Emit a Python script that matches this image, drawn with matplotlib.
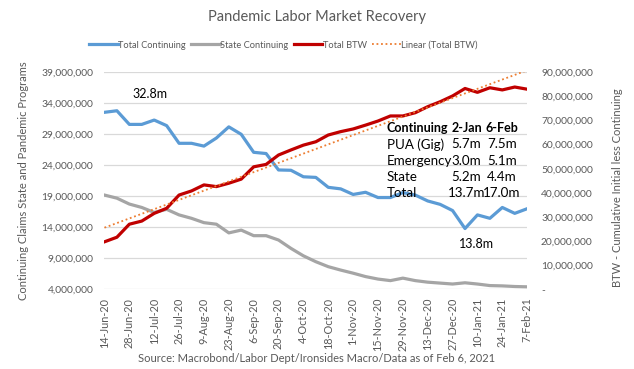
import numpy as np
import pandas as pd
import matplotlib
matplotlib.use('Agg')
import matplotlib.pyplot as plt
from matplotlib.ticker import FuncFormatter
import matplotlib.dates as mdates

plt.rcParams['font.family'] = ['Lato', 'DejaVu Sans']

# weekly dates, 14-Jun-20 to 7-Feb-21
weeks = pd.date_range('2020-06-14', '2021-02-07', freq='7D')

# continuing claims, millions (left axis)
total_continuing = [32.55, 32.8, 30.6, 30.6, 31.3, 30.4, 27.55, 27.55, 27.1, 28.4,
                    30.2, 29.0, 26.1, 25.9, 23.25, 23.2, 22.15, 22.05, 20.45, 20.2,
                    19.3, 19.65, 18.8, 18.8, 19.6, 19.2, 18.25, 17.7, 16.7, 13.8,
                    16.0, 15.45, 17.2, 16.25, 17.0]
state_continuing = [19.2, 18.7, 17.75, 17.2, 16.4, 16.9, 16.0, 15.45, 14.75, 14.5,
                    13.1, 13.55, 12.65, 12.65, 11.95, 10.6, 9.4, 8.45, 7.65, 7.1,
                    6.6, 6.05, 5.65, 5.4, 5.8, 5.4, 5.15, 5.0, 4.85, 5.05,
                    4.85, 4.6, 4.55, 4.45, 4.4]
# cumulative initial less continuing, millions (right axis)
total_btw = [19.7, 21.6, 27.0, 28.3, 31.5, 33.6, 39.1, 40.8, 43.3, 42.6,
             44.0, 45.7, 50.8, 51.8, 55.7, 57.8, 59.8, 61.2, 64.0, 65.4,
             66.5, 68.1, 69.8, 71.9, 71.9, 73.25, 75.75, 77.8, 80.2, 83.3,
             81.7, 83.6, 82.7, 83.9, 83.0]

table_rows = [('Continuing', '2-Jan', '6-Feb'),
              ('PUA (Gig)', '5.7m', '7.5m'),
              ('Emergency', '3.0m', '5.1m'),
              ('State', '5.2m', '4.4m'),
              ('Total', '13.7m', '17.0m')]

blue = '#5B9BD5'
grey = '#A5A5A5'
red = '#C00000'
orange = '#ED7D31'
grid_c = '#D9D9D9'
txt_c = '#595959'

fig = plt.figure(figsize=(6.34, 3.69), dpi=100)
ax = fig.add_axes([0.1648, 0.216, 0.6667, 0.588])
ax2 = ax.twinx()

tc = np.array(total_continuing) * 1e6
sc = np.array(state_continuing) * 1e6
btw = np.array(total_btw) * 1e6

l1, = ax.plot(weeks, tc, color=blue, lw=2.3, solid_joinstyle='round')
l2, = ax.plot(weeks, sc, color=grey, lw=2.3, solid_joinstyle='round')
l3, = ax2.plot(weeks, btw, color=red, lw=2.3, solid_joinstyle='round')

# linear trend of Total BTW
xi = np.arange(len(weeks))
coef = np.polyfit(xi, btw, 1)
l4, = ax2.plot(weeks, np.polyval(coef, xi), color=orange, lw=1.3, ls=(0, (1, 1.5)))

ax.set_xlim(weeks[0], weeks[-1])
ax.set_ylim(4e6, 39e6)
ax2.set_ylim(0, 90e6)
ax.set_yticks(np.arange(4e6, 39.5e6, 5e6))
ax2.set_yticks(np.arange(0, 90.5e6, 10e6))
ax.yaxis.set_major_formatter(FuncFormatter(lambda v, p: f'{v:,.0f}'))
ax2.yaxis.set_major_formatter(FuncFormatter(lambda v, p: '-' if abs(v) < 1 else f'{v:,.0f}'))

ax.set_xticks(weeks[::2])
ax.xaxis.set_major_formatter(FuncFormatter(lambda v, p: f'{mdates.num2date(v).day}-{mdates.num2date(v):%b-%y}'))
for lbl in ax.get_xticklabels():
    lbl.set_rotation(90)

ax.grid(axis='y', color=grid_c, lw=0.9)
ax.set_axisbelow(True)
for a in (ax, ax2):
    for s in a.spines.values():
        s.set_visible(False)
    a.tick_params(length=0, labelsize=7.4, colors=txt_c)
ax.tick_params(axis='x', labelsize=7.8, pad=6)
ax.tick_params(axis='y', pad=8)
ax2.tick_params(axis='y', pad=10)

ax.set_ylabel('Continuing Claims State and Pandemic Programs', fontsize=8, color=txt_c, labelpad=9)
ax2.set_ylabel('BTW - Cumulative Initial less Continuing', fontsize=8, color=txt_c)
ax2.yaxis.set_label_coords(1.2, 0.47)

# annotations
ax.text(3.65 / 34, (35.5 - 4) / 35, '32.8m', transform=ax.transAxes, ha='center', va='center', fontsize=9, color='black')
ax.text(29.9 / 34, (11.3 - 4) / 35, '13.8m', transform=ax.transAxes, ha='center', va='center', fontsize=9, color='black')

# small table
row_y = [127.7, 144.3, 160.7, 177.0, 192.7]
for (c0, c1, c2), py in zip(table_rows, row_y):
    yf = (289.3 - py) / 217
    bold = c0 == 'Continuing'
    kw = dict(transform=ax.transAxes, va='center', fontsize=9 if bold else 9.6,
              fontweight='bold' if bold else 'normal', color='black')
    ax.text((386.7 - 104.5) / 422.7, yf, c0, ha='left', **kw)
    ax.text((466.5 - 104.5) / 422.7, yf, c1, ha='center', **kw)
    ax.text((502.0 - 104.5) / 422.7, yf, c2, ha='center', **kw)

fig.text(0.5, 1 - 17 / 369, 'Pandemic Labor Market Recovery', ha='center', va='center', fontsize=10.5, color=txt_c)
fig.legend([l1, l2, l3, l4], ['Total Continuing', 'State Continuing', 'Total BTW', 'Linear (Total BTW)'],
           loc='center', bbox_to_anchor=(283.5 / 634, 1 - 45 / 369), ncol=4, frameon=False, fontsize=6.7,
           handlelength=3.1, handletextpad=0.05, columnspacing=0.55, labelcolor=txt_c)
fig.text(0.5, 1 - 359 / 369, 'Source: Macrobond/Labor Dept/Ironsides Macro/Data as of Feb 6, 2021',
         ha='center', va='center', fontsize=8, color=txt_c)

fig.savefig('out.png', dpi=100)
